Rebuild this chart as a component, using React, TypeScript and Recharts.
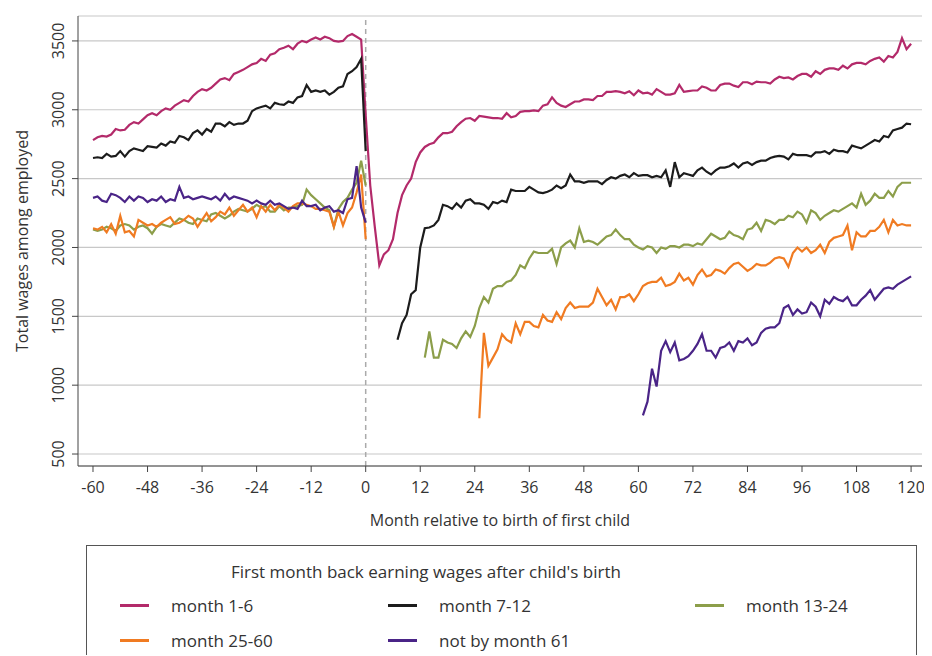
import { LineChart, Line, XAxis, YAxis, CartesianGrid, ReferenceLine } from "recharts";

const FONT = "'Open Sans', 'Noto Sans', sans-serif";

const xTicks = [-60, -48, -36, -24, -12, 0, 12, 24, 36, 48, 60, 72, 84, 96, 108, 120];
const yTicks = [500, 1000, 1500, 2000, 2500, 3000, 3500];

// pre-birth values, months -60..0
const m16Pre = [
  2780, 2800, 2810, 2805, 2820, 2860, 2850, 2855, 2890, 2910,
  2900, 2930, 2960, 2975, 2960, 2990, 3010, 3000, 3030, 3050,
  3070, 3060, 3100, 3130, 3150, 3140, 3160, 3190, 3220, 3230,
  3215, 3260, 3275, 3290, 3310, 3330, 3340, 3370, 3355, 3400,
  3410, 3440, 3450, 3465, 3440, 3480, 3500, 3490, 3510, 3525,
  3510, 3530, 3520, 3500, 3495, 3500, 3535, 3550, 3530, 3510, 2960,
];
const m712Pre = [
  2650, 2655, 2650, 2680, 2660, 2665, 2700, 2660, 2700, 2720,
  2710, 2700, 2735, 2730, 2725, 2755, 2740, 2770, 2760, 2810,
  2800, 2780, 2830, 2850, 2820, 2860, 2840, 2900, 2900, 2880,
  2910, 2890, 2900, 2900, 2920, 2990, 3010, 3020, 3030, 3010,
  3050, 3040, 3035, 3060, 3050, 3090, 3100, 3180, 3130, 3140,
  3130, 3140, 3110, 3130, 3160, 3170, 3260, 3280, 3310, 3370, 2700,
];
const m1324Pre = [
  2130, 2120, 2130, 2150, 2140, 2120, 2160, 2170, 2160, 2130,
  2150, 2160, 2140, 2100, 2150, 2170, 2160, 2150, 2180, 2210,
  2200, 2180, 2170, 2210, 2200, 2190, 2240, 2250, 2230, 2210,
  2230, 2260, 2280, 2270, 2260, 2280, 2310, 2290, 2300, 2260,
  2260, 2300, 2270, 2290, 2290, 2300, 2310, 2420, 2380, 2350,
  2320, 2290, 2270, 2150, 2280, 2330, 2360, 2420, 2470, 2630, 2450,
];
const m2560Pre = [
  2140, 2130, 2150, 2110, 2170, 2100, 2230, 2110, 2120, 2080,
  2200, 2180, 2160, 2170, 2150, 2180, 2200, 2220, 2170, 2180,
  2200, 2230, 2210, 2150, 2200, 2250, 2190, 2220, 2260, 2240,
  2290, 2230, 2270, 2310, 2260, 2290, 2220, 2300, 2260, 2310,
  2270, 2310, 2290, 2260, 2300, 2320, 2320, 2310, 2300, 2280,
  2280, 2270, 2260, 2150, 2260, 2160, 2250, 2290, 2400, 2530, 2060,
];
const notByPre = [
  2360, 2370, 2340, 2330, 2390, 2380, 2360, 2330, 2370, 2340,
  2370, 2360, 2330, 2350, 2340, 2370, 2330, 2350, 2340, 2440,
  2360, 2370, 2350, 2360, 2370, 2360, 2350, 2370, 2340, 2390,
  2350, 2370, 2360, 2350, 2340, 2320, 2340, 2320, 2310, 2340,
  2310, 2320, 2300, 2280, 2290, 2280, 2340, 2300, 2300, 2310,
  2270, 2290, 2300, 2260, 2270, 2250, 2350, 2360, 2590, 2290, 2180,
];

// post-birth values, from the first month back to month 120
const m16Post = [
  2450, 2150, 1870, 1950, 1980, 2060, 2250, 2380, 2450, 2500,
  2620, 2690, 2730, 2750, 2760, 2800, 2830, 2830, 2840, 2880,
  2910, 2935, 2940, 2920, 2955, 2950, 2945, 2940, 2940, 2935,
  2975, 2945, 2955, 2985, 2990, 2990, 2995, 2990, 3030, 3040,
  3090, 3050, 3030, 3020, 3040, 3060, 3060, 3075, 3075, 3070,
  3100, 3100, 3130, 3130, 3135, 3130, 3120, 3135, 3105, 3140,
  3120, 3125, 3110, 3150, 3130, 3110, 3110, 3120, 3180, 3130,
  3135, 3140, 3140, 3170, 3160, 3140, 3140, 3180, 3190, 3190,
  3175, 3165, 3200, 3200, 3185, 3205, 3200, 3200, 3190, 3220,
  3240, 3230, 3235, 3220, 3245, 3260, 3260, 3240, 3280, 3260,
  3290, 3300, 3300, 3290, 3320, 3300, 3330, 3340, 3340, 3330,
  3355, 3370, 3380, 3350, 3390, 3380, 3420, 3520, 3440, 3480,
];
const m712Post = [
  1330, 1450, 1510, 1660, 1690, 2000, 2140, 2145, 2160, 2200,
  2310, 2300, 2280, 2320, 2290, 2340, 2350, 2320, 2320, 2310,
  2280, 2330, 2320, 2340, 2330, 2420, 2410, 2410, 2410, 2440,
  2420, 2400, 2395, 2405, 2420, 2450, 2430, 2450, 2530, 2480,
  2480, 2470, 2480, 2480, 2480, 2460, 2490, 2510, 2500, 2520,
  2530, 2510, 2540, 2520, 2525, 2525, 2510, 2520, 2510, 2560,
  2440, 2620, 2510, 2540, 2530, 2520, 2560, 2580, 2550, 2530,
  2560, 2580, 2580, 2590, 2610, 2580, 2610, 2620, 2600, 2620,
  2630, 2630, 2650, 2660, 2665, 2660, 2640, 2680, 2670, 2670,
  2670, 2660, 2690, 2690, 2700, 2680, 2710, 2700, 2700, 2690,
  2740, 2730, 2720, 2740, 2760, 2780, 2770, 2810, 2800, 2850,
  2860, 2870, 2900, 2895,
];
const m1324Post = [
  1200, 1390, 1200, 1200, 1330, 1310, 1300, 1270, 1340, 1390,
  1350, 1430, 1560, 1640, 1600, 1700, 1720, 1720, 1750, 1760,
  1800, 1870, 1850, 1920, 1970, 1960, 1960, 1960, 1990, 1880,
  2000, 2030, 2050, 2000, 2140, 2040, 2050, 2040, 2020, 2050,
  2080, 2090, 2130, 2090, 2060, 2060, 2020, 2000, 1985, 2010,
  2000, 1960, 2000, 1990, 2010, 2010, 2000, 2020, 2020, 2010,
  2030, 2020, 2060, 2100, 2080, 2060, 2070, 2115, 2090, 2080,
  2060, 2130, 2140, 2180, 2120, 2200, 2190, 2170, 2200, 2200,
  2230, 2220, 2260, 2240, 2180, 2270, 2250, 2200, 2230, 2250,
  2270, 2260, 2280, 2300, 2320, 2290, 2390, 2310, 2340, 2390,
  2360, 2360, 2410, 2370, 2440, 2470, 2470, 2470,
];
const m2560Post = [
  760, 1380, 1140, 1200, 1260, 1370, 1330, 1310, 1450, 1370,
  1460, 1460, 1430, 1420, 1510, 1470, 1460, 1530, 1480, 1560,
  1600, 1560, 1570, 1570, 1570, 1600, 1700, 1640, 1580, 1620,
  1550, 1640, 1640, 1660, 1610, 1660, 1720, 1740, 1750, 1750,
  1780, 1720, 1730, 1750, 1810, 1760, 1780, 1730, 1800, 1840,
  1790, 1800, 1840, 1830, 1810, 1850, 1880, 1890, 1860, 1830,
  1850, 1880, 1870, 1870, 1890, 1920, 1930, 1920, 1860, 1960,
  2000, 1970, 2000, 1960, 1980, 2020, 1960, 2040, 2070, 2080,
  2090, 2160, 1980, 2110, 2080, 2080, 2120, 2120, 2150, 2200,
  2110, 2200, 2160, 2170, 2160, 2160,
];
const notByPost = [
  780, 880, 1120, 990, 1250, 1320, 1240, 1310, 1180, 1190,
  1210, 1250, 1300, 1370, 1250, 1250, 1200, 1270, 1280, 1310,
  1250, 1320, 1310, 1340, 1290, 1310, 1380, 1410, 1420, 1420,
  1450, 1560, 1580, 1510, 1550, 1520, 1530, 1600, 1570, 1500,
  1620, 1590, 1640, 1620, 1610, 1640, 1580, 1580, 1620, 1650,
  1690, 1620, 1660, 1700, 1710, 1700, 1730, 1750, 1770, 1790,
];

const series = [
  { key: "m16", name: "month 1-6", color: "#b32a6a", pre: m16Pre, post: m16Post, start: 1 },
  { key: "m712", name: "month 7-12", color: "#1c1c1c", pre: m712Pre, post: m712Post, start: 7 },
  { key: "m1324", name: "month 13-24", color: "#8c9e4a", pre: m1324Pre, post: m1324Post, start: 13 },
  { key: "m2560", name: "month 25-60", color: "#f07b22", pre: m2560Pre, post: m2560Post, start: 25 },
  { key: "notBy", name: "not by month 61", color: "#4a2487", pre: notByPre, post: notByPost, start: 61 },
];

const data: any[] = [];
for (let m = -60; m <= 120; m++) {
  const row: any = { month: m };
  series.forEach((s) => {
    if (m <= 0) row[s.key] = s.pre[m + 60];
    else if (m >= s.start) row[s.key] = s.post[m - s.start];
  });
  data.push(row);
}

function YTick({ x, y, payload }: any) {
  return (
    <text x={x - 6} y={y} transform={`rotate(-90, ${x - 6}, ${y})`} textAnchor="middle" fontSize={16} fill="#333" fontFamily={FONT}>
      {payload.value}
    </text>
  );
}

export default function App() {
  return (
    <div style={{ width: 924, fontFamily: FONT, color: "#333" }}>
      <LineChart width={924} height={530} data={data} margin={{ top: 8, right: 10, left: 0, bottom: 0 }}>
        <CartesianGrid vertical={false} stroke="#c8c8c8" strokeWidth={1.2} />
        <XAxis
          dataKey="month"
          type="number"
          domain={[-63.3, 122.4]}
          ticks={xTicks}
          height={72}
          stroke="#444"
          tick={{ fontSize: 16, fill: "#333", fontFamily: FONT }}
          tickMargin={10}
          label={{ value: "Month relative to birth of first child", position: "insideBottom", offset: 12, fontSize: 16, fill: "#333", fontFamily: FONT }}
        />
        <YAxis
          type="number"
          domain={[413, 3681]}
          ticks={yTicks}
          width={70}
          stroke="#444"
          allowDataOverflow
          tick={<YTick />}
          label={{ value: "Total wages among employed", angle: -90, position: "insideLeft", offset: 14, fontSize: 16, fill: "#333", fontFamily: FONT, style: { textAnchor: "middle" } }}
        />
        <ReferenceLine x={0} stroke="#aaa" strokeDasharray="5 4" strokeWidth={1.5} />
        {series.map((s) => (
          <Line
            key={s.key}
            dataKey={s.key}
            stroke={s.color}
            strokeWidth={2.2}
            dot={false}
            isAnimationActive={false}
          />
        ))}
      </LineChart>
      <div
        style={{
          marginLeft: 78,
          marginTop: 7,
          width: 831,
          height: 110,
          border: "1px solid #555",
          borderBottom: "none",
          boxSizing: "border-box",
          fontSize: 17,
          position: "relative",
        }}
      >
        <div style={{ position: "absolute", left: 144, top: 14 }}>First month back earning wages after child's birth</div>
        {series.map((s, i) => {
          const col = i % 3;
          const row = Math.floor(i / 3);
          const left = [33, 301, 608][col];
          return (
            <div key={s.key} style={{ position: "absolute", left, top: 48 + row * 35, display: "flex", alignItems: "center" }}>
              <span style={{ width: 29, height: 3, background: s.color, display: "inline-block", marginRight: 22 }} />
              <span>{s.name}</span>
            </div>
          );
        })}
      </div>
    </div>
  );
}
